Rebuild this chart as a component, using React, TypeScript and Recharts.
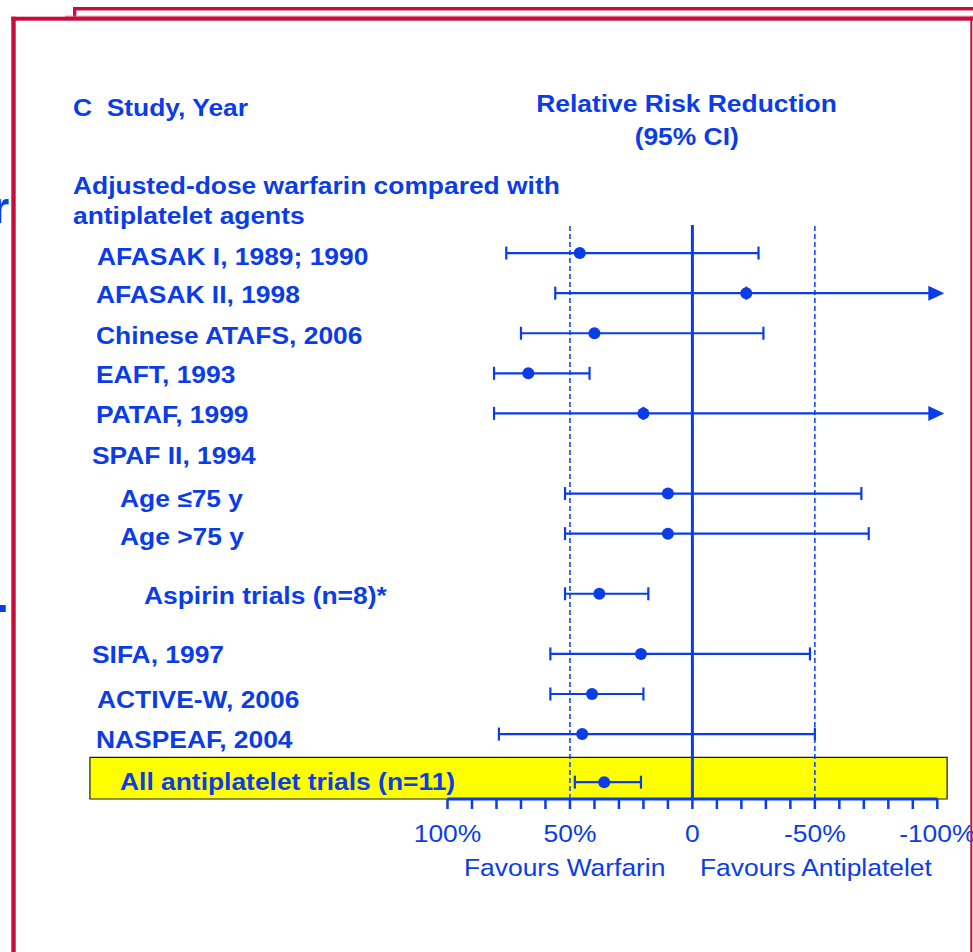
import React from 'react';
import { ScatterChart, Scatter, XAxis, YAxis, ErrorBar, ReferenceLine, ReferenceArea, ReferenceDot } from 'recharts';

const BLUE = '#0a3de8';
const RED = '#c80c3c';
const FONT = '"Liberation Sans", Arial, Helvetica, sans-serif';

// ---- data ----
const STUDY_LABELS = [
  'AFASAK I, 1989; 1990',
  'AFASAK II, 1998',
  'Chinese ATAFS, 2006',
  'EAFT, 1993',
  'PATAF, 1999',
  'SPAF II, 1994',
  'Age \u226475 y',
  'Age >75 y',
  'Aspirin trials (n=8)*',
  'SIFA, 1997',
  'ACTIVE-W, 2006',
  'NASPEAF, 2004',
  'All antiplatelet trials (n=11)',
];
// row order (top to bottom), with wider gaps around the aspirin subtotal and the overall row
const ROW_ORDER = [0, 1, 2, 3, 4, 5, 6, 7, 8.5, 10, 11, 12, 13.2];
// relative risk reduction (%), positive favours warfarin
const RRR = [46, -22, 40, 67, 20, null, 10, 10, 38, 21, 41, 45, 36];
const CI_WARFARIN_END = [76, 56, 70, 81, 81, null, 52, 52, 52, 58, 58, 79, 48];
const CI_ANTIPLATELET_END = [-27, -100, -29, 42, -100, null, -69, -72, 18, -48, 20, -50, 21];
const RUNS_OFF_SCALE = [false, true, false, false, true, false, false, false, false, false, false, false, false];

const X_TICKS = [100, 90, 80, 70, 60, 50, 40, 30, 20, 10, 0, -10, -20, -30, -40, -50, -60, -70, -80, -90, -100];
const MAJOR_TICKS = [100, 50, 0, -50, -100];
const MAJOR_LABELS = ['100%', '50%', '0', '-50%', '-100%'];
const DASHED_REFS = [50, -50];
const HIGHLIGHT_ROW = 12;

// ---- layout / style (not data) ----
const LABEL_X = [97, 96, 96, 96, 96, 92, 120, 120, 144, 92, 97, 96, 120];
const LABEL_SHIFT = [3.2, 1.3, 2, 1.3, 1, 2, 5, 2.3, 2, 1, 5, 5, -1];
const CAP_CENTER_DY = 8.6;
const Y_DOMAIN: [number, number] = [-0.7, 13.62];

const rows = STUDY_LABELS.map((label, i) => ({
  label,
  row: ROW_ORDER[i],
  rrr: RRR[i],
  hi: CI_WARFARIN_END[i],
  lo: CI_ANTIPLATELET_END[i],
  off: RUNS_OFF_SCALE[i],
}));

const closedData = rows
  .filter((r) => r.rrr !== null && !r.off)
  .map((r) => ({ x: r.rrr as number, y: r.row, err: [(r.rrr as number) - (r.lo as number), (r.hi as number) - (r.rrr as number)] }));

const openData = rows
  .filter((r) => r.rrr !== null && r.off)
  .map((r) => ({
    x: r.rrr as number,
    y: r.row,
    errWarf: [0, (r.hi as number) - (r.rrr as number)],
    errAnti: [(r.rrr as number) - (r.lo as number), 0],
  }));

const arrowData = rows.filter((r) => r.off).map((r) => ({ x: r.lo as number, y: r.row }));

const Dot = (p: any) => <circle cx={p.cx} cy={p.cy} r={6} fill={BLUE} />;
const Arrow = (p: any) => (
  <polygon
    points={`${p.cx - 9},${p.cy - 7.5} ${p.cx + 7},${p.cy} ${p.cx - 9},${p.cy + 7.5}`}
    fill={BLUE}
  />
);

const RowTick = (props: any) => {
  const { y, payload } = props;
  const i = ROW_ORDER.indexOf(payload.value);
  if (i < 0) return <g />;
  return (
    <text
      transform={`translate(${LABEL_X[i]},${y + LABEL_SHIFT[i] + CAP_CENTER_DY}) scale(1.1,1)`}
      fontFamily={FONT}
      fontSize={24}
      fontWeight={700}
      fill={BLUE}
    >
      {STUDY_LABELS[i]}
    </text>
  );
};

const XTick = (props: any) => {
  const { x, y, payload } = props;
  const i = MAJOR_TICKS.indexOf(payload.value);
  if (i < 0) return <g />;
  return (
    <text
      transform={`translate(${x},${y + 31}) scale(1.1,1)`}
      textAnchor="middle"
      fontFamily={FONT}
      fontSize={24}
      fill={BLUE}
    >
      {MAJOR_LABELS[i]}
    </text>
  );
};

const T = (p: { x: number; y: number; children: React.ReactNode; bold?: boolean; anchor?: 'start' | 'middle'; size?: number }) => (
  <text
    transform={`translate(${p.x},${p.y}) scale(1.1,1)`}
    textAnchor={p.anchor || 'start'}
    fontFamily={FONT}
    fontSize={p.size || 24}
    fontWeight={p.bold ? 700 : 400}
    fill={BLUE}
    style={{ whiteSpace: 'pre' }}
  >
    {p.children}
  </text>
);

export default function App() {
  return (
    <div style={{ position: 'absolute', left: 0, top: 0, width: 973, height: 952, background: '#fff', overflow: 'hidden' }}>
      <ScatterChart width={973} height={952} margin={{ top: 225, right: 35.7, bottom: 93, left: 7.5 }}>
        <ReferenceArea
          x1={246}
          x2={-104}
          y1={ROW_ORDER[HIGHLIGHT_ROW] - 0.62}
          y2={Y_DOMAIN[1]}
          ifOverflow="visible"
          fill="#ffff00"
          fillOpacity={1}
          stroke="#1a1a1a"
          strokeWidth={1.2}
        />
        {DASHED_REFS.map((v) => (
          <ReferenceLine key={v} x={v} stroke={BLUE} strokeWidth={1.5} strokeDasharray="5 3" />
        ))}
        <ReferenceLine x={0} stroke={BLUE} strokeWidth={3} />
        <XAxis
          type="number"
          dataKey="x"
          domain={[-100, 100]}
          reversed
          allowDataOverflow
          ticks={X_TICKS}
          interval={0}
          tickSize={10}
          tick={<XTick />}
          axisLine={{ stroke: BLUE, strokeWidth: 3 }}
          tickLine={{ stroke: BLUE, strokeWidth: 2.5 }}
          height={60}
        />
        <YAxis
          type="number"
          dataKey="y"
          domain={Y_DOMAIN}
          reversed
          allowDataOverflow
          ticks={ROW_ORDER}
          interval={0}
          width={440}
          axisLine={false}
          tickLine={false}
          tick={<RowTick />}
        />
        <Scatter data={closedData} shape={Dot} isAnimationActive={false}>
          <ErrorBar dataKey="err" direction="x" width={6.5} stroke={BLUE} strokeWidth={2.2} isAnimationActive={false} />
        </Scatter>
        <Scatter data={openData} shape={Dot} isAnimationActive={false}>
          <ErrorBar dataKey="errWarf" direction="x" width={6.5} stroke={BLUE} strokeWidth={2.2} isAnimationActive={false} />
          <ErrorBar dataKey="errAnti" direction="x" width={0} stroke={BLUE} strokeWidth={2.2} isAnimationActive={false} />
        </Scatter>
        {arrowData.map((a, i) => (
          <ReferenceDot key={i} x={a.x} y={a.y} ifOverflow="visible" shape={Arrow} />
        ))}
      </ScatterChart>

      <svg
        width={973}
        height={952}
        style={{ position: 'absolute', left: 0, top: 0, pointerEvents: 'none' }}
      >
        {/* slide frame */}
        <rect x={73} y={7} width={900} height={3.5} fill={RED} />
        <rect x={73} y={7} width={3.3} height={11} fill={RED} />
        <rect x={65} y={15.7} width={908} height={1} fill="#e07a95" />
        <rect x={11.3} y={16.7} width={962} height={4} fill={RED} />
        <rect x={11.3} y={16.7} width={4.4} height={940} fill={RED} />
        <rect x={970.3} y={16.7} width={2} height={940} fill={RED} />
        {/* fragments of background slide text */}
        <text x={-8} y={223} fontFamily={FONT} fontSize={44} fontWeight={700} fill={BLUE}>r</text>
        <text x={-4} y={612} fontFamily={FONT} fontSize={46} fontWeight={700} fill={BLUE}>.</text>

        <T x={73} y={115.6} bold>{'C  Study, Year'}</T>
        <T x={686.5} y={112} bold anchor="middle">Relative Risk Reduction</T>
        <T x={686.7} y={144.6} bold anchor="middle">(95% CI)</T>
        <T x={73} y={193.5} bold>Adjusted-dose warfarin compared with</T>
        <T x={73} y={223.5} bold>antiplatelet agents</T>
        <T x={464} y={876} anchor="start">Favours Warfarin</T>
        <T x={700} y={876} anchor="start">Favours Antiplatelet</T>
      </svg>
    </div>
  );
}
